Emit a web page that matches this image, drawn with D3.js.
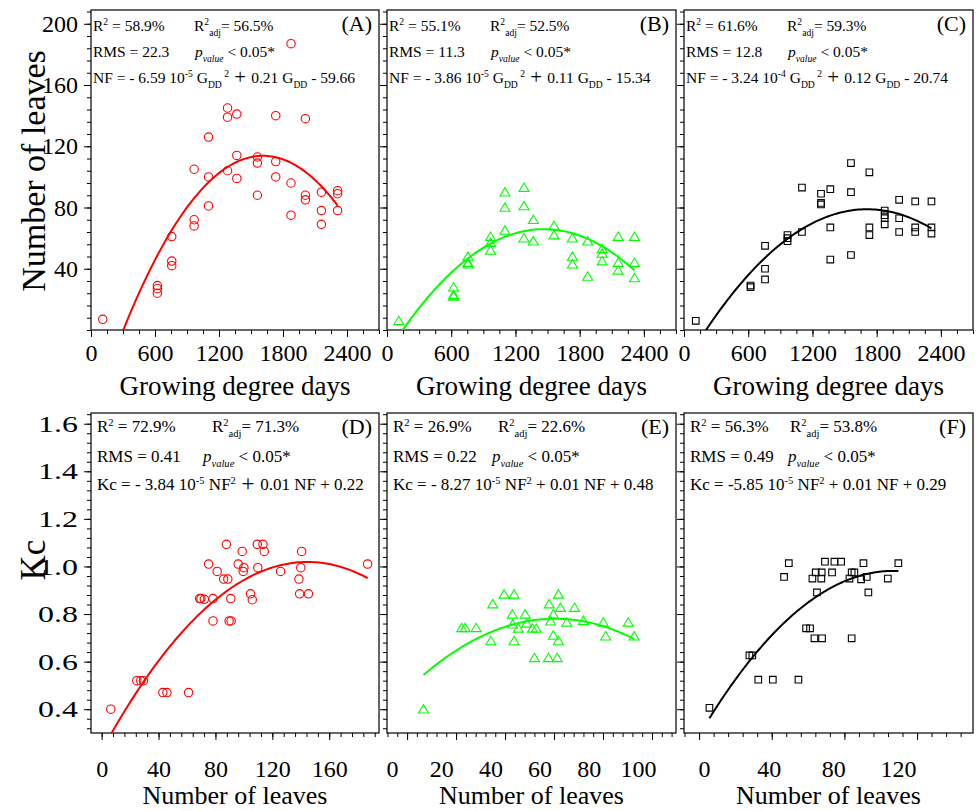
<!DOCTYPE html>
<html>
<head>
<meta charset="utf-8">
<script src="https://cdnjs.cloudflare.com/ajax/libs/d3/7.8.5/d3.min.js"></script>
<style>
  body { margin: 0; background: #fff; }
  text { font-family: "Liberation Serif", "Times New Roman", serif; fill: #000; white-space: pre; }
</style>
</head>
<body>
<div id="chart"></div>
<script>
// ---- data ----
// (A) red circles: growing degree days vs number of leaves
const gddA = [110, 622, 622, 622, 757, 757, 757, 967, 967, 967, 1102, 1102, 1102, 1280, 1280, 1280,
    1367, 1367, 1367, 1560, 1560, 1560, 1732, 1732, 1732, 1875, 1875, 1875, 2010, 2010, 2010,
    2160, 2160, 2160, 2312, 2312, 2312];
const leavesA = [7, 29, 27, 24, 61, 45, 42, 105, 72, 68, 126, 100, 81, 145, 139, 104,
    141, 114, 99, 113, 109, 88, 140, 110, 100, 187, 96, 75, 138, 88, 85,
    90, 78, 69, 91, 89, 78];

// (B) green triangles
const gddB = [110, 622, 622, 622, 757, 757, 757, 967, 967, 967, 1102, 1102, 1102, 1280, 1280, 1280,
    1367, 1367, 1560, 1560, 1732, 1732, 1732, 1875, 1875, 2010, 2010, 2010,
    2160, 2160, 2160, 2312, 2312, 2312];
const leavesB = [6, 28, 23, 22, 48, 44, 43, 61, 57, 52, 90, 80, 65, 93, 81, 60,
    72, 58, 68, 62, 60, 48, 43, 58, 35, 53, 50, 45,
    61, 44, 39, 61, 44, 34];

// (C) black squares
const gddC = [110, 622, 622, 757, 757, 757, 967, 967, 967, 1102, 1102, 1280, 1280, 1280,
    1367, 1367, 1367, 1560, 1560, 1560, 1732, 1732, 1732, 1875, 1875, 1875, 1875,
    2010, 2010, 2010, 2160, 2160, 2160, 2312, 2312, 2312];
const leavesC = [6, 29, 28, 55, 40, 33, 62, 60, 58, 93, 64, 89, 83, 82,
    92, 67, 46, 109, 90, 49, 103, 67, 62, 78, 75, 73, 69,
    85, 73, 64, 84, 67, 64, 84, 67, 63];

// (D) red circles: number of leaves vs Kc
const leavesD = [6.4, 24.7, 27.5, 29.4, 43, 45.9, 61.1, 68.9, 69.8, 72.2, 75.2, 78.3, 78.3, 81.2,
    85.8, 88.7, 87.7, 89.6, 91, 90.8, 96, 98.8, 99.5, 100, 104.7, 105.9, 109.4, 113.4,
    109.8, 114.3, 125.8, 138.7, 139.2, 140, 140.6, 145.4, 187];
const kcD = [0.40, 0.52, 0.52, 0.52, 0.47, 0.47, 0.47, 0.865, 0.865, 0.862, 1.01, 0.865, 0.771, 0.979,
    0.947, 0.947, 1.093, 0.771, 0.771, 0.865, 1.01, 1.063, 0.979, 0.995, 0.885, 0.86, 1.093, 1.093,
    0.995, 1.063, 0.979, 0.947, 0.885, 0.995, 1.063, 0.885, 1.01];

// (E) green triangles
const leavesE = [6.7, 22.3, 23.7, 28.2, 34.2, 35, 39.6, 43.7, 43, 43.1, 43.7, 45.4, 48.2, 48.8,
    51.2, 52.7, 52, 57.7, 61.3, 58, 58.6, 59.7, 59.7, 61.8, 61.8, 62.6, 65.2, 68.4,
    72, 80.1, 81.1, 90.3, 92.7];
const kcE = [0.40, 0.742, 0.742, 0.742, 0.687, 0.842, 0.883, 0.883, 0.799, 0.757, 0.687, 0.740, 0.799, 0.761,
    0.740, 0.740, 0.616, 0.616, 0.616, 0.842, 0.770, 0.799, 0.710, 0.883, 0.687, 0.827, 0.765, 0.827,
    0.772, 0.765, 0.707, 0.765, 0.707];

// (F) black squares
const leavesF = [5.7, 27.7, 29.3, 32.6, 40.6, 54.7, 46.8, 49.4, 58.9, 61.1, 63.5, 67.7, 84,
    62.4, 64.2, 67.5, 67.3, 64.9, 69.3, 73.2, 74.5, 78.2, 82.8, 84, 85.5,
    89.2, 90.5, 92.3, 93.2, 103.9, 109.7];
const kcF = [0.406, 0.626, 0.626, 0.524, 0.524, 0.524, 0.956, 1.014, 0.740, 0.740, 0.698, 0.698, 0.698,
    0.949, 0.975, 0.975, 0.949, 0.891, 1.020, 0.975, 1.020, 1.020, 0.949, 0.975, 0.975,
    0.946, 1.014, 0.956, 0.891, 0.949, 1.014];

// quadratic fits [c0, c1, c2]
const fitA = [-58.8, 0.2141, -6.64e-5];
const fitB = [-15.48, 0.1109, -3.78e-5];
const fitC = [-23.07, 0.1191, -3.479e-5];
const fitD = [0.225, 0.01097, -3.79e-5];
const fitE = [0.481, 0.00991, -8.2e-5];
const fitF = [0.2904, 0.01293, -6.05e-5];

// statistics printed in each panel
const panelTags = ['(A)', '(B)', '(C)', '(D)', '(E)', '(F)'];
const r2Text = ['58.9%', '55.1%', '61.6%', '72.9%', '26.9%', '56.3%'];
const r2adjText = ['56.5%', '52.5%', '59.3%', '71.3%', '22.6%', '53.8%'];
const rmsText = ['22.3', '11.3', '12.8', '0.41', '0.22', '0.49'];
const eqText = [
    [['NF = - 6.59 10'], ['-5', 'sup'], [' G'], ['DD', 'sub'], [' 2', 'sup'], [' + ', 'big'], ['0.21 G'], ['DD', 'sub'], [' - 59.66']],
    [['NF = - 3.86 10'], ['-5', 'sup'], [' G'], ['DD', 'sub'], [' 2', 'sup'], [' + ', 'big'], ['0.11 G'], ['DD', 'sub'], [' - 15.34']],
    [['NF = - 3.24 10'], ['-4', 'sup'], [' G'], ['DD', 'sub'], [' 2', 'sup'], [' + ', 'big'], ['0.12 G'], ['DD', 'sub'], [' - 20.74']],
    [['Kc = - 3.84 10'], ['-5', 'sup'], [' NF'], ['2', 'sup'], [' + ', 'big'], ['0.01 NF + 0.22']],
    [['Kc = - 8.27 10'], ['-5', 'sup'], [' NF'], ['2', 'sup'], [' + 0.01 NF + 0.48']],
    [['Kc = -5.85 10'], ['-5', 'sup'], [' NF'], ['2', 'sup'], [' + 0.01 NF + 0.29']]
];

// axis ticks
const gddTicks = [0, 600, 1200, 1800, 2400];
const leavesYTicks = [40, 80, 120, 160, 200];
const kcTicks = [0.4, 0.6, 0.8, 1.0, 1.2, 1.4, 1.6];
const leavesXTicksD = [0, 40, 80, 120, 160];
const leavesXTicksE = [0, 20, 40, 60, 80, 100];
const leavesXTicksF = [0, 40, 80, 120];

// ---- layout ----
const svgWidth = 977;
const svgHeight = 811;
const colLeft = [91, 387, 684];
const colRight = [379, 676, 973];
const topRow = {top: 10, bottom: 330};
const botRow = {top: 413, bottom: 733};

let svg = d3.select('#chart').append('svg')
    .attr('width', svgWidth).attr('height', svgHeight);

// labelRange: where the printed tick labels sit (they are offset from the tick marks in E and F)
let panels = [
    {x: gddA, y: leavesA, fit: fitA, color: '#ff0000', shape: 'circle', row: topRow, col: 0,
        xDomain: [0, 2700], yDomain: [0, 209], xTicks: gddTicks, xMinor: 150, yTicks: leavesYTicks, yMinor: 8, yLabels: true},
    {x: gddB, y: leavesB, fit: fitB, color: '#00ff00', shape: 'triangle', row: topRow, col: 1,
        xDomain: [0, 2700], yDomain: [0, 209], xTicks: gddTicks, xMinor: 150, yTicks: leavesYTicks, yMinor: 8, yLabels: false},
    {x: gddC, y: leavesC, fit: fitC, color: '#000000', shape: 'square', row: topRow, col: 2,
        xDomain: [0, 2700], yDomain: [0, 209], xTicks: gddTicks, xMinor: 150, yTicks: leavesYTicks, yMinor: 8, yLabels: false},
    {x: leavesD, y: kcD, fit: fitD, color: '#ff0000', shape: 'circle', row: botRow, col: 0,
        xDomain: [-7.5, 195], yDomain: [0.3, 1.645], xTicks: leavesXTicksD, xMinor: 8, yTicks: kcTicks, yMinor: 0.04, yLabels: true},
    {x: leavesE, y: kcE, fit: fitE, color: '#00ff00', shape: 'triangle', row: botRow, col: 1,
        xDomain: [-8.2, 109.8], yDomain: [0.3, 1.645], xTicks: leavesXTicksE, xMinor: 4, yTicks: kcTicks, yMinor: 0.04, yLabels: false,
        labelRange: [371.8, 662.1]},
    {x: leavesF, y: kcF, fit: fitF, color: '#000000', shape: 'square', row: botRow, col: 2,
        xDomain: [-8.3, 150.8], yDomain: [0.3, 1.645], xTicks: leavesXTicksF, xMinor: 8, yTicks: kcTicks, yMinor: 0.04, yLabels: false,
        labelRange: [690.6, 947.8]}
];

// text with sub/superscripts
function richText(parent, x, y, segs, size) {
    let t = parent.append('text').attr('x', x).attr('y', y).style('font-size', size + 'px');
    let off = 0;
    segs.forEach(function(s) {
        let kind = s[1] || '';
        let shift = 0, fs = size, style = 'normal';
        if (kind === 'sup') { shift = -0.38 * size; fs = size * 0.62; }
        if (kind === 'sub') { shift = 0.3 * size; fs = size * 0.62; }
        if (kind === 'isub') { shift = 0.3 * size; fs = size * 0.62; style = 'italic'; }
        if (kind === 'i') { style = 'italic'; }
        if (kind === 'big') { fs = size * 1.35; shift = 0.05 * size; }
        t.append('tspan').attr('dy', shift - off).style('font-size', fs + 'px')
            .style('font-style', style).text(s[0]);
        off = shift;
    });
    return t;
}

function minorValues(domain, step) {
    let out = [];
    let start = Math.ceil(domain[0] / step - 1e-9);
    for (let i = start; i * step <= domain[1] + 1e-9; i++) out.push(+(i * step).toFixed(6));
    return out;
}

panels.forEach(function(p, i) {
    let left = colLeft[p.col], right = colRight[p.col];
    let bottomRow = p.row === botRow;
    let x = d3.scaleLinear().domain(p.xDomain).range([left, right]);
    let y = d3.scaleLinear().domain(p.yDomain).range([p.row.bottom, p.row.top]);
    let xLab = p.labelRange ? x.copy().range(p.labelRange) : x;
    let g = svg.append('g');

    // minor ticks
    g.append('g').attr('transform', `translate(0, ${p.row.bottom})`)
        .call(d3.axisBottom(x).tickValues(minorValues(p.xDomain, p.xMinor)).tickSize(4).tickFormat(''))
        .call(a => a.select('.domain').remove());
    g.append('g').attr('transform', `translate(${left}, 0)`)
        .call(d3.axisLeft(y).tickValues(minorValues(p.yDomain, p.yMinor)).tickSize(4).tickFormat(''))
        .call(a => a.select('.domain').remove());

    // major ticks
    g.append('g').attr('transform', `translate(0, ${p.row.bottom})`)
        .call(d3.axisBottom(x).tickValues(p.xTicks).tickSize(7).tickFormat(''))
        .call(a => a.select('.domain').remove());
    let xLabels = g.append('g').attr('transform', `translate(0, ${p.row.bottom})`)
        .call(d3.axisBottom(xLab).tickValues(p.xTicks).tickSize(0).tickPadding(bottomRow ? 27 : 14).tickFormat(d3.format('d')));
    xLabels.select('.domain').remove();
    xLabels.selectAll('line').remove();
    xLabels.selectAll('text').style('font-size', '24px').style('font-family', '"Liberation Serif", serif');

    let yAx = g.append('g').attr('transform', `translate(${left}, 0)`)
        .call(d3.axisLeft(y).tickValues(p.yTicks).tickSize(7).tickPadding(bottomRow ? 2.8 : 6)
            .tickFormat(p.yLabels ? (bottomRow ? d3.format('.1f') : d3.format('d')) : ''));
    yAx.select('.domain').remove();
    yAx.selectAll('text').style('font-size', '24px').style('font-family', '"Liberation Serif", serif');
    // the Kc tick labels are stretched sideways in the original
    if (bottomRow) yAx.selectAll('text').attr('transform', 'scale(1.33, 1)');
    g.selectAll('.tick line').attr('stroke', '#000').attr('stroke-width', 1);

    // frame
    g.append('rect').attr('x', left).attr('y', p.row.top)
        .attr('width', right - left).attr('height', p.row.bottom - p.row.top)
        .attr('fill', 'none').attr('stroke', '#000').attr('stroke-width', 1.2);

    // fit curve, clipped to the frame
    let clipId = 'clip' + i;
    svg.append('clipPath').attr('id', clipId).append('rect')
        .attr('x', left).attr('y', p.row.top)
        .attr('width', right - left).attr('height', p.row.bottom - p.row.top);
    let x0 = d3.min(p.x), x1 = d3.max(p.x);
    let curvePts = d3.range(0, 101).map(k => {
        let xv = x0 + (x1 - x0) * k / 100;
        return [xv, p.fit[0] + p.fit[1] * xv + p.fit[2] * xv * xv];
    });
    g.append('path').datum(curvePts)
        .attr('clip-path', `url(#${clipId})`)
        .attr('fill', 'none').attr('stroke', p.color).attr('stroke-width', 2)
        .attr('d', d3.line().x(d => x(d[0])).y(d => y(d[1])));

    // points
    let pts = p.x.map((v, k) => [v, p.y[k]]);
    let marks = g.append('g').selectAll('path.pt').data(pts).enter().append('path')
        .attr('fill', 'none').attr('stroke', p.color).attr('stroke-width', 1.1)
        .attr('transform', d => `translate(${x(d[0])}, ${y(d[1])})`);
    if (p.shape === 'circle') {
        marks.attr('d', 'M4.2,0A4.2,4.2 0 1,1 -4.2,0A4.2,4.2 0 1,1 4.2,0Z');
    } else if (p.shape === 'triangle') {
        marks.attr('d', 'M0,-4.6L5,3.8L-5,3.8Z');
    } else {
        marks.attr('d', 'M-3.3,-3.3H3.3V3.3H-3.3Z');
    }

    // statistics text
    let fs = bottomRow ? 17 : 15.5;
    let lineY = bottomRow ? [p.row.top + 19, p.row.top + 49, p.row.top + 77] : [p.row.top + 21, p.row.top + 47, p.row.top + 73];
    let tx = left + (bottomRow ? 6 : 2);
    let tx2 = left + (bottomRow ? [121, 111, 106][p.col] : 103);
    let tp = left + (bottomRow ? [112, 105, 104][p.col] : 104);
    richText(g, tx, lineY[0], [['R'], ['2', 'sup'], [' = ' + r2Text[i]]], fs);
    richText(g, tx2, lineY[0], [['R'], ['2', 'sup'], ['adj', 'sub'], ['= ' + r2adjText[i]]], fs);
    richText(g, tx, lineY[1], [['RMS = ' + rmsText[i]]], fs);
    richText(g, tp, lineY[1], [['p', 'i'], ['value', 'isub'], [' < 0.05*']], fs);
    richText(g, tx, lineY[2], eqText[i], fs);
    g.append('text').attr('x', right - 7).attr('y', p.row.top + 21)
        .attr('text-anchor', 'end').style('font-size', '22px').text(panelTags[i]);

    // x axis title
    g.append('text').attr('x', (left + right) / 2)
        .attr('y', bottomRow ? 804 : 395)
        .attr('text-anchor', 'middle').style('font-size', bottomRow ? '26px' : '27px')
        .text(bottomRow ? 'Number of leaves' : 'Growing degree days');
});

// y axis titles
svg.append('text').attr('transform', 'translate(45, 171) rotate(-90)')
    .attr('text-anchor', 'middle').style('font-size', '34px').text('Number of leaves');
svg.append('text').attr('transform', 'translate(45, 560) rotate(-90)')
    .attr('text-anchor', 'middle').style('font-size', '35px').text('Kc');
</script>
</body>
</html>
